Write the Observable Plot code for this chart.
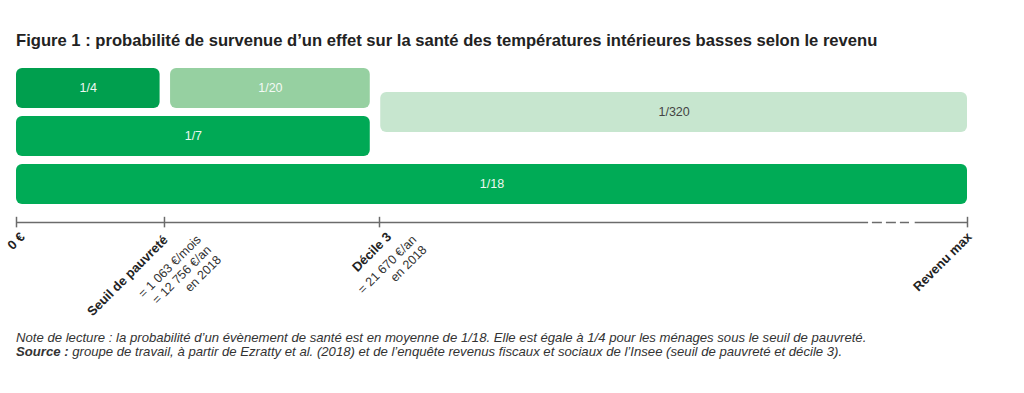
<!DOCTYPE html>
<html><head><meta charset="utf-8">
<script src="https://cdn.jsdelivr.net/npm/d3@7"></script>
<script src="https://cdn.jsdelivr.net/npm/@observablehq/plot@0.6"></script>
<style>
body{margin:0;background:#fff;font-family:"Liberation Sans",Arial,sans-serif;width:1024px;height:393px;overflow:hidden;position:relative}
#title{position:absolute;left:16px;top:31px;font-size:16.6px;line-height:20px;font-weight:bold;color:#222;white-space:nowrap}
#chart{position:absolute;left:0;top:56px}
#notes{position:absolute;left:16px;top:331px;font-size:13.15px;font-style:italic;color:#333;line-height:14px;white-space:nowrap}
</style></head>
<body>
<div id="title">Figure 1 : probabilité de survenue d’un effet sur la santé des températures intérieures basses selon le revenu</div>
<div id="chart"></div>
<div id="notes">Note de lecture : la probabilité d’un évènement de santé est en moyenne de 1/18. Elle est égale à 1/4 pour les ménages sous le seuil de pauvreté.<br><b>Source :</b> groupe de travail, à partir de Ezratty et al. (2018) et de l’enquête revenus fiscaux et sociaux de l’Insee (seuil de pauvreté et décile 3).</div>
<script>
const barLabels = ["1/4", "1/20", "1/7", "1/320", "1/18"];
const barStart = [0, 16.2, 0, 38.3, 0];
const barEnd = [15.1, 37.2, 37.2, 100, 100];
const barRow = [0, 0, 1, 0.5, 2];
const barColors = ["#009f4e", "#96d0a1", "#00a955", "#c7e6cf", "#00ab56"];
const barTextColors = ["#eef7f1", "#f4faf5", "#eef7f1", "#444444", "#eef7f1"];

const tickValues = [0, 15.56, 38.17, 100];
const tickTitles = ["0 €", "Seuil de pauvreté", "Décile 3", "Revenu max"];
const tickNotes = ["", "= 1 063 €/mois\n= 12 756 €/an\nen 2018", "= 21 670 €/an\nen 2018", ""];

const rowHeight = 0.833;
const axisRow = 3.21;

const bars = barLabels.map((label, i) => ({
  label, x1: barStart[i], x2: barEnd[i], y1: barRow[i], y2: barRow[i] + rowHeight,
  fill: barColors[i], textFill: barTextColors[i]
}));
const ticks = tickValues.map((v, i) => ({v, title: tickTitles[i], note: tickNotes[i]}));

const axisStroke = "#6b6b6b";
const titleStyle = {x: "v", y: axisRow, text: "title", rotate: -45, textAnchor: "end", fontWeight: "bold", fontSize: 13, fill: "#222"};
const noteStyle = {x: "v", y: axisRow, text: "note", rotate: -45, textAnchor: "end", lineAnchor: "top", lineHeight: 1.15, fontSize: 12.5, fill: "#333"};
const pick = (i) => ticks.filter((d, j) => j === i);

const chart = Plot.plot({
  width: 1024, height: 262,
  marginTop: 0, marginBottom: 0, marginLeft: 16, marginRight: 57,
  x: {domain: [0, 100], axis: null},
  y: {domain: [0, 5], range: [12, 252], axis: null},
  color: {type: "identity"},
  style: {fontFamily: "Liberation Sans, Arial, sans-serif", background: "white"},
  marks: [
    Plot.rect(bars, {x1: "x1", x2: "x2", y1: "y1", y2: "y2", fill: "fill", rx: 6}),
    Plot.text(bars, {x: d => (d.x1 + d.x2) / 2, y: d => (d.y1 + d.y2) / 2, text: "label", fill: "textFill", fontSize: 12.5}),
    Plot.ruleY([axisRow], {x1: 0, x2: 89.6, stroke: axisStroke, strokeWidth: 1.5}),
    Plot.ruleY([axisRow], {x1: 90.0, x2: 93.9, stroke: axisStroke, strokeWidth: 1.5, strokeDasharray: "10,4"}),
    Plot.ruleY([axisRow], {x1: 94.5, x2: 100, stroke: axisStroke, strokeWidth: 1.5}),
    Plot.ruleX(ticks, {x: "v", y1: axisRow - 0.11, y2: axisRow + 0.11, stroke: axisStroke, strokeWidth: 1.5}),
    Plot.text(pick(0), {...titleStyle, dx: 6.2, dy: 12.2}),
    Plot.text(pick(1), {...titleStyle, dx: 1.2, dy: 15.2}),
    Plot.text(pick(2), {...titleStyle, dx: 9.7, dy: 12.2}),
    Plot.text(pick(3), {...titleStyle, dx: 2.2, dy: 12.2}),
    Plot.text(pick(1), {...noteStyle, dx: 30, dy: 10.5}),
    Plot.text(pick(2), {...noteStyle, dx: 30.5, dy: 10.5})
  ]
});
document.getElementById("chart").appendChild(chart);
</script>
</body></html>
